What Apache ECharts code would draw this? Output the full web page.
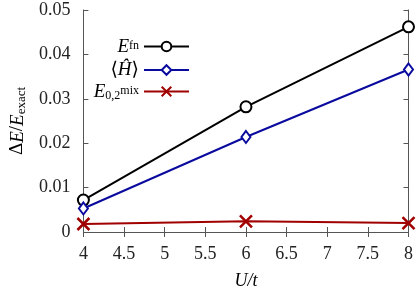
<!DOCTYPE html>
<html><head><meta charset="utf-8">
<script src="https://cdn.jsdelivr.net/npm/echarts@6/dist/echarts.min.js"></script>
<style>html,body{margin:0;padding:0;background:#fff}#c{width:416px;height:295px}</style>
</head><body><div id="c"></div>
<script>
var xValues = [4, 6, 8];
var efnValues = [0.0072, 0.0282, 0.0462];
var hValues = [0.0053, 0.0214, 0.0366];
var mixValues = [0.0018, 0.0024, 0.0020];
var xTicks = [4, 4.5, 5, 5.5, 6, 6.5, 7, 7.5, 8];
var yTicks = [0, 0.01, 0.02, 0.03, 0.04, 0.05];

var FONT = '"Liberation Serif", "DejaVu Serif", serif';
var AX = '#555';
function pairs(ys){ return xValues.map(function(x,i){ return [x, ys[i]]; }); }

var chart = echarts.init(document.getElementById('c'));
var crossPath = 'path://M0,0L10,10M10,0L0,10';
var legendRich = {
  i: {fontFamily: FONT, fontStyle: 'italic', fontSize: 19, color: '#000', lineHeight: 14},
  n: {fontFamily: FONT, fontSize: 19, color: '#000', lineHeight: 14},
  sup: {fontFamily: FONT, fontSize: 12, color: '#000', verticalAlign: 'top', padding: [0,0,7,0], lineHeight: 10},
  sub: {fontFamily: FONT, fontSize: 12, color: '#000', padding: [8,0,0,0], lineHeight: 10}
};
var names = ['Efn', 'H', 'Emix'];
var labels = {
  'Efn': '{i|E}{sup|fn}',
  'H': '{n|⟨}{i|Ĥ}{n|⟩}',
  'Emix': '{i|E}{sub|0,2}{sup|mix}'
};
chart.setOption({
  animation: false,
  grid: {left: 76, right: 6, top: 10, bottom: 57},
  legend: {
    orient: 'vertical', left: 88, top: 32, align: 'right',
    itemWidth: 45, itemHeight: 12, itemGap: 2,
    data: names,
    formatter: function(n){ return labels[n]; },
    textStyle: {width: 46, align: 'right', rich: legendRich, fontFamily: FONT, fontSize: 19, lineHeight: 14}
  },
  xAxis: [{
    type: 'value', min: 4, max: 8, interval: 0.5,
    name: 'U/t', nameLocation: 'middle', nameGap: 40,
    nameTextStyle: {fontFamily: FONT, fontStyle: 'italic', fontSize: 18, color: '#000'},
    axisLine: {lineStyle: {color: AX, width: 1}},
    axisTick: {inside: true, length: 5, lineStyle: {color: AX}},
    axisLabel: {fontFamily: FONT, fontSize: 18, color: '#222', margin: 13,
      formatter: function(v){ return xTicks.indexOf(v) >= 0 ? String(v) : ''; }},
    splitLine: {show: false}
  }, {
    type: 'value', position: 'top', min: 4, max: 8, interval: 0.5,
    axisLine: {lineStyle: {color: AX, width: 1}},
    axisTick: {inside: true, length: 5, lineStyle: {color: AX}},
    axisLabel: {show: false}, splitLine: {show: false}
  }],
  yAxis: [{
    type: 'value', min: 0, max: 0.05, interval: 0.01,
    name: '{n|Δ}{i|E}{n|/}{i|E}{sub|exact}', nameLocation: 'middle', nameGap: 52, nameRotate: 90,
    nameTextStyle: {rich: {
      i: {fontFamily: FONT, fontStyle: 'italic', fontSize: 19, color: '#000'},
      n: {fontFamily: FONT, fontSize: 19, color: '#000'},
      sub: {fontFamily: FONT, fontSize: 13, color: '#000', padding: [8,0,0,0]}
    }},
    axisLine: {show: true, lineStyle: {color: AX, width: 1}},
    axisTick: {show: true, inside: true, length: 5, lineStyle: {color: AX}},
    axisLabel: {fontFamily: FONT, fontSize: 18, color: '#222', margin: 13,
      formatter: function(v){ var r = Math.round(v*100)/100; return r === 0 ? '0' : r.toFixed(2); }},
    splitLine: {show: false}
  }, {
    type: 'value', position: 'right', min: 0, max: 0.05, interval: 0.01,
    axisLine: {show: true, lineStyle: {color: AX, width: 1}},
    axisTick: {show: true, inside: true, length: 5, lineStyle: {color: AX}},
    axisLabel: {show: false}, splitLine: {show: false}
  }],
  series: [{
    name: 'Efn', type: 'line', data: pairs(efnValues),
    symbol: 'circle', symbolSize: 11,
    lineStyle: {color: '#000', width: 2},
    itemStyle: {color: '#fff', borderColor: '#000', borderWidth: 2},
    emphasis: {disabled: true}
  }, {
    name: 'H', type: 'line', data: pairs(hValues),
    symbol: 'diamond', symbolSize: [9, 12],
    lineStyle: {color: '#0a0a9e', width: 2},
    itemStyle: {color: '#fff', borderColor: '#0a0a9e', borderWidth: 2},
    emphasis: {disabled: true}
  }, {
    name: 'Emix', type: 'line', data: pairs(mixValues),
    symbol: crossPath, symbolSize: 12,
    lineStyle: {color: '#a00000', width: 2},
    itemStyle: {color: 'none', borderColor: '#a00000', borderWidth: 2.5},
    emphasis: {disabled: true}
  }]
});
</script>
</body></html>
